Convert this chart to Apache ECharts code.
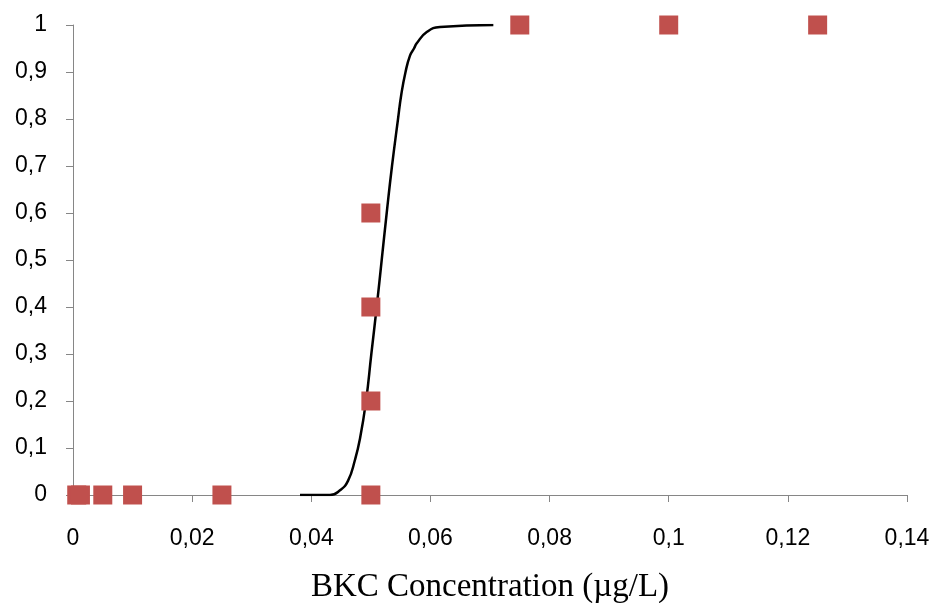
<!DOCTYPE html>
<html>
<head>
<meta charset="utf-8">
<script src="https://cdn.jsdelivr.net/npm/echarts@6/dist/echarts.min.js"></script>
<style>
html,body{margin:0;padding:0;background:#fff;}
#chart{width:933px;height:603px;}
</style>
</head>
<body>
<div id="chart"></div>
<script>
// Observed data (concentration µg/L, proportion)
const obsX = [0.000625, 0.00125, 0.005, 0.01, 0.025, 0.05, 0.05, 0.05, 0.05, 0.075, 0.1, 0.125];
const obsY = [0, 0, 0, 0, 0, 0, 0.2, 0.4, 0.6, 1, 1, 1];

// Fitted curve, points
const fitX = [0.03811, 0.04314, 0.04482, 0.04616, 0.04734, 0.04818, 0.04919, 0.05008, 0.05098, 0.05182, 0.05266, 0.05355, 0.05456, 0.05511, 0.05582, 0.05657, 0.05724, 0.05770, 0.05938, 0.06161, 0.07056];
const fitY = [0, 0, 0.01, 0.03, 0.075, 0.12, 0.2, 0.3, 0.4, 0.5, 0.6, 0.7, 0.8, 0.852, 0.9, 0.935, 0.95, 0.961, 0.985, 0.996, 1];

const xTitle = 'BKC Concentration (µg/L)';

const fmt = v => String(+v.toFixed(4)).replace('.', ',');

const chart = echarts.init(document.getElementById('chart'), null, {renderer: 'canvas'});
chart.setOption({
  animation: false,
  backgroundColor: '#fff',
  grid: {left: 73, right: 26, top: 25, bottom: 108, containLabel: false, outerBoundsMode: 'none'},
  xAxis: {
    type: 'value', min: 0, max: 0.14, interval: 0.02,
    name: xTitle, nameLocation: 'middle', nameGap: 76,
    nameTextStyle: {fontFamily: 'Liberation Serif', fontSize: 33, color: '#000'},
    axisLine: {show: true, onZero: false, lineStyle: {color: '#868686', width: 1}},
    axisTick: {show: true, inside: false, length: 7, lineStyle: {color: '#868686'}},
    axisLabel: {margin: 32, formatter: fmt, fontFamily: 'Liberation Sans', fontSize: 23, color: '#000'},
    splitLine: {show: false}
  },
  yAxis: {
    type: 'value', min: 0, max: 1, interval: 0.1,
    axisLine: {show: true, lineStyle: {color: '#868686', width: 1}},
    axisTick: {show: true, inside: false, length: 7, lineStyle: {color: '#868686'}},
    axisLabel: {margin: 26, formatter: fmt, fontFamily: 'Liberation Sans', fontSize: 23, color: '#000'},
    splitLine: {show: false}
  },
  series: [
    {
      type: 'line',
      data: fitX.map((x, i) => [x, fitY[i]]),
      smooth: 0.5,
      showSymbol: false,
      lineStyle: {color: '#000', width: 2.5},
      z: 2
    },
    {
      type: 'scatter',
      data: obsX.map((x, i) => [x, obsY[i]]),
      symbol: 'rect',
      symbolSize: 19,
      itemStyle: {color: '#C0504D', opacity: 1},
      z: 3
    }
  ]
});
</script>
</body>
</html>
